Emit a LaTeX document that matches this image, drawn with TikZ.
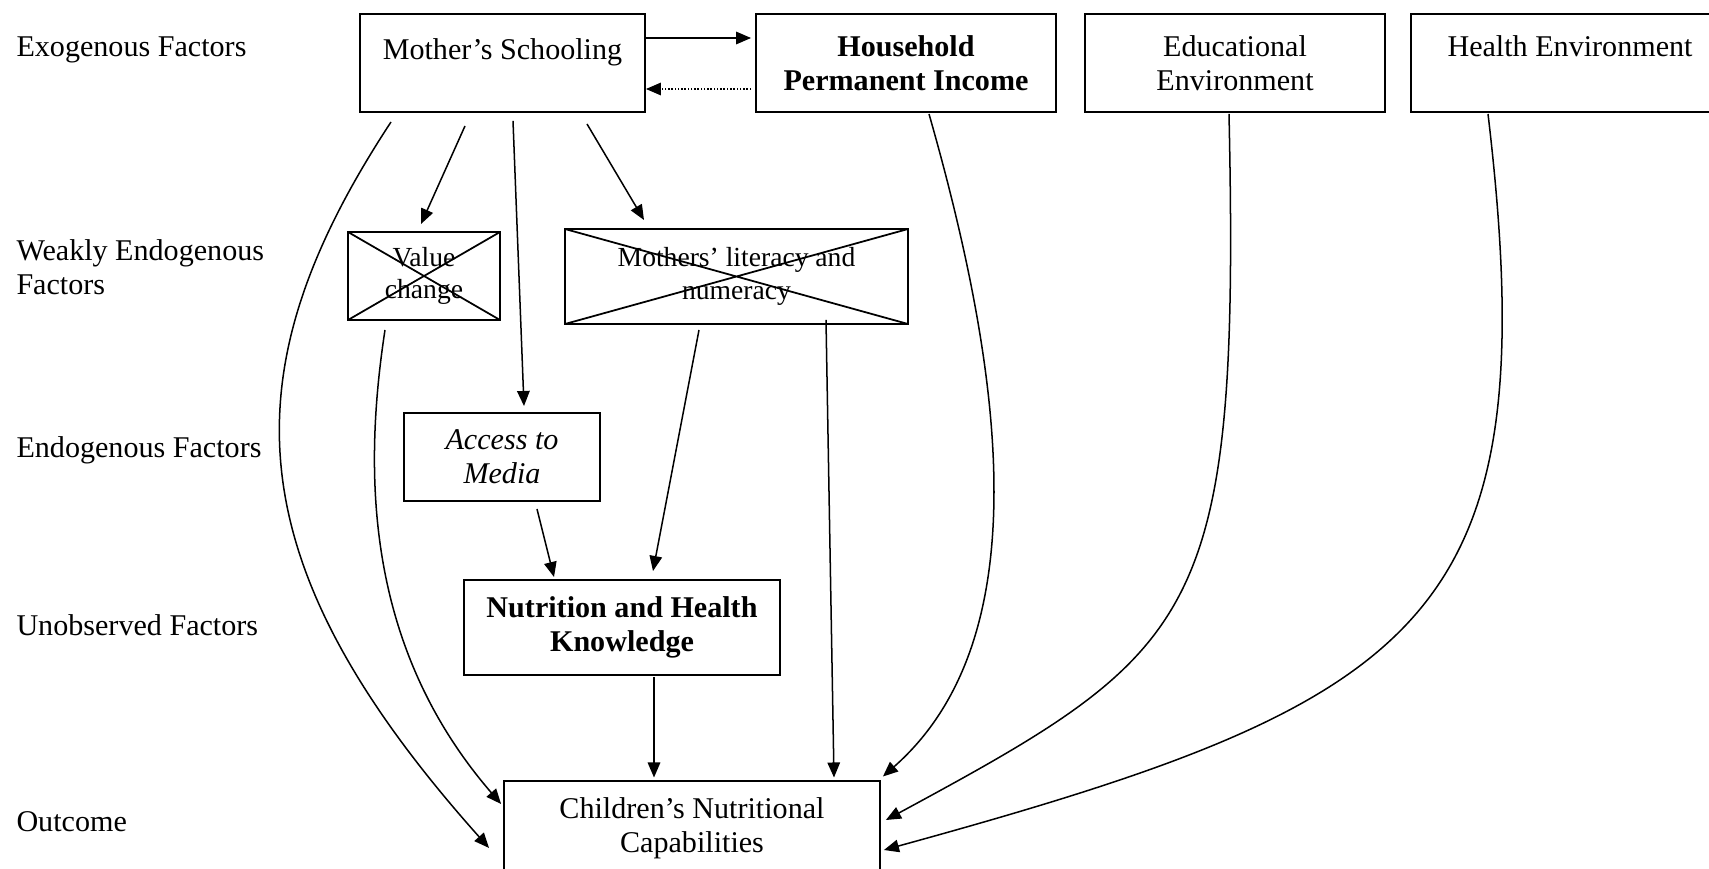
\documentclass[tikz,border=0pt]{standalone}
\usepackage{fontspec}
\setmainfont{Liberation Serif}
\usetikzlibrary{
  arrows.meta,
  positioning
}
\tikzset{
  % Factor box: fixed size, centred text
  box/.style={
    rectangle, draw=black, line width=0.8pt,
    minimum width=#1, minimum height=1.372cm,
    align=center, inner sep=0pt,
    font=\fontsize{12}{13.5}\selectfont
  },
  box/.default=4.2cm,
  % Crossed-out box, slightly smaller text
  xbox/.style={
    box=#1, font=\fontsize{11}{13}\selectfont,
    path picture={
      \draw[line width=0.7pt]
        (path picture bounding box.north west) -- (path picture bounding box.south east)
        (path picture bounding box.south west) -- (path picture bounding box.north east);
    }
  },
  % Row label on the left
  lbl/.style={anchor=west, align=left, inner sep=0pt, font=\fontsize{12}{13.5}\selectfont},
  % Arrow
  arr/.style={-{Triangle[length=6pt,width=5pt]}, line width=0.6pt},
  % Dotted back arrow
  darr/.style={arr, dash pattern=on 0.6pt off 0.7pt}
}

\begin{document}
\begin{tikzpicture}[x=0.014cm, y=-0.014cm]
  \useasboundingbox (0,0) rectangle (1709,869);

  % Row labels
  \node[lbl] (lexo)  at (16,50)  {Exogenous Factors};
  \node[lbl] (lweak) at (16,267) {Weakly Endogenous\\Factors};
  \node[lbl] (lendo) at (16,450) {Endogenous Factors};
  \node[lbl] (lunob) at (16,625) {Unobserved Factors};
  \node[lbl] (lout)  at (16,822) {Outcome};

  % Exogenous row
  \node[box=3.99cm]  (school) at (502.5,63) {Mother’s Schooling\\[-2pt]~};
  \node[box, font=\fontsize{12}{13.5}\selectfont\bfseries] (income) at (906,63) {Household\\Permanent Income};
  \node[box]         (edu)    at (1235,63) {Educational\\Environment};
  \node[box=4.45cm]  (health) at (1570,63) {Health Environment\\~};

  % Weakly endogenous row
  \node[xbox=2.128cm, minimum height=1.232cm] (value) at (424,276)   {Value\\change};
  \node[xbox=4.802cm, minimum height=1.33cm]  (lit)   at (736.5,276.5) {Mothers’ literacy and\\numeracy};

  % Endogenous, unobserved and outcome
  \node[box=2.744cm, minimum height=1.232cm, font=\fontsize{12}{13.5}\selectfont\itshape] (media) at (502,457) {Access to\\Media};
  \node[box=4.424cm, minimum height=1.33cm, font=\fontsize{12}{13.5}\selectfont\bfseries] (know) at (622,627.5) {Nutrition and Health\\Knowledge};
  \node[box=5.264cm, minimum height=1.33cm] (outcome) at (692,828) {Children’s Nutritional\\Capabilities};

  % Top row links
  \draw[arr]  ([shift={(0,-25)}]school.east) -- ([shift={(-4,-25)}]income.west);
  \draw[darr] ([shift={(-4,26)}]income.west) -- ([shift={(0,26)}]school.east);

  % From mother's schooling
  \draw[arr] ([shift={(-37.5,13)}]school.south) -- ([shift={(-3,-7)}]value.north);
  \draw[arr] ([shift={(10.5,8)}]school.south)   -- ([shift={(22,-6)}]media.north);
  \draw[arr] ([shift={(84.5,11)}]school.south)  -- ([shift={(-92.5,-8)}]lit.north);
  \draw[arr] ([shift={(-111.5,9)}]school.south) .. controls (228,370) and (232,560) .. ([shift={(-14,20)}]outcome.west);

  % Middle links
  \draw[arr] ([shift={(-39,9)}]value.south) .. controls (362,480) and (368,650) .. ([shift={(-2,-24)}]outcome.west);
  \draw[arr] ([shift={(35,7)}]media.south)  -- ([shift={(-68,-2)}]know.north);
  \draw[arr] ([shift={(-37.5,5)}]lit.south) -- ([shift={(31,-8)}]know.north);
  \draw[arr] ([shift={(89.5,-5)}]lit.south) -- ([shift={(142,-2)}]outcome.north);
  \draw[arr] ([shift={(32,1)}]know.south)   -- ([shift={(-38,-2)}]outcome.north);

  % Environment links
  \draw[arr] ([shift={(23,1)}]income.south) .. controls (1005,380) and (1038,640) .. ([shift={(2,-3)}]outcome.north east);
  \draw[arr] ([shift={(-6,1)}]edu.south)    .. controls (1240,620) and (1200,650) .. ([shift={(5,-8)}]outcome.east);
  \draw[arr] ([shift={(-82,1)}]health.south) .. controls (1548,620) and (1430,700) .. ([shift={(3,22)}]outcome.east);

\end{tikzpicture}
\end{document}
